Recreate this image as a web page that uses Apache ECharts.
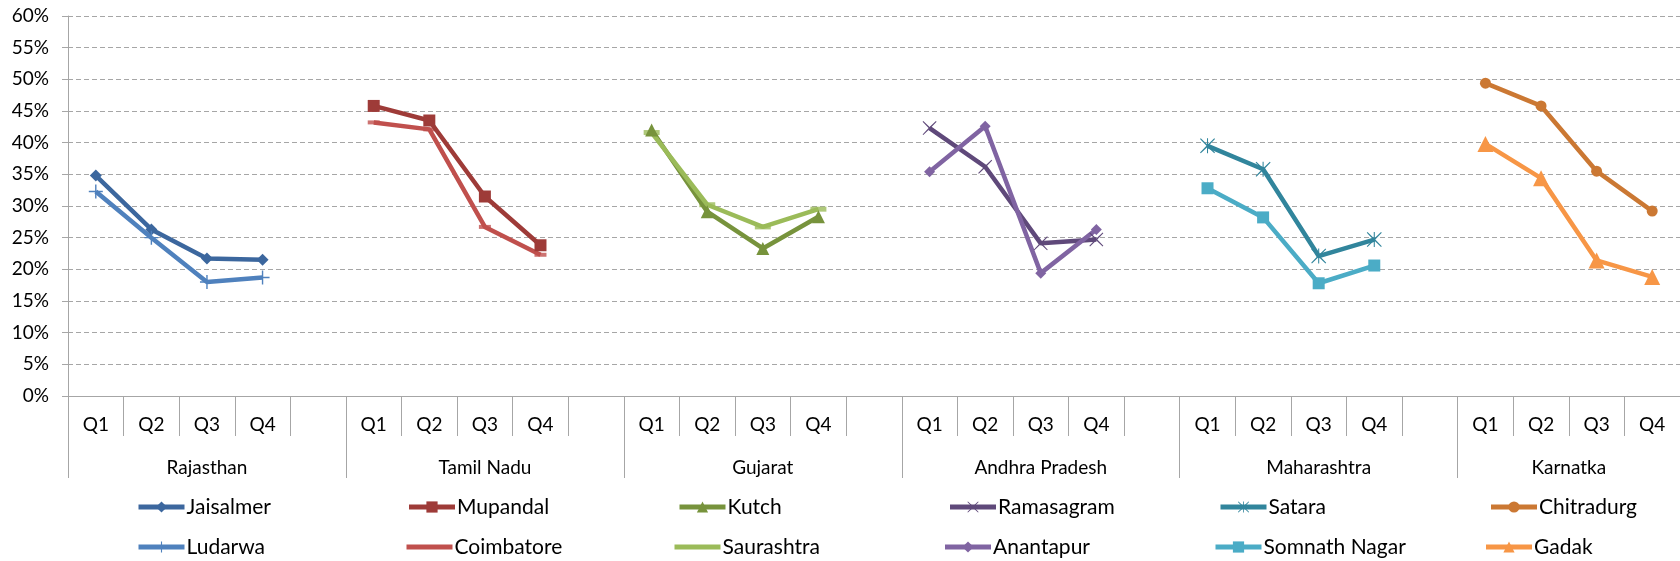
<!DOCTYPE html>
<html>
<head>
<meta charset="utf-8">
<script src="https://cdn.jsdelivr.net/npm/echarts@6/dist/echarts.min.js"></script>
<style>
html,body{margin:0;padding:0;background:#fff;}
#chart{width:1680px;height:561px;}
</style>
</head>
<body>
<div id="chart"></div>
<script>
// ---- data ----
var quarters = ['Q1', 'Q2', 'Q3', 'Q4'];
var states = ['Rajasthan', 'Tamil Nadu', 'Gujarat', 'Andhra Pradesh', 'Maharashtra', 'Karnatka'];
var yTicks = [0, 5, 10, 15, 20, 25, 30, 35, 40, 45, 50, 55, 60];

var siteNames = ['Jaisalmer', 'Ludarwa', 'Mupandal', 'Coimbatore', 'Kutch', 'Saurashtra',
                 'Ramasagram', 'Anantapur', 'Satara', 'Somnath Nagar', 'Chitradurg', 'Gadak'];
var siteState = [0, 0, 1, 1, 2, 2, 3, 3, 4, 4, 5, 5];

var jaisalmer    = [34.8, 26.3, 21.7, 21.5];
var ludarwa      = [32.3, 25.0, 18.0, 18.7];
var mupandal     = [45.8, 43.5, 31.5, 23.8];
var coimbatore   = [43.2, 42.1, 26.7, 22.3];
var kutch        = [42.0, 29.1, 23.3, 28.3];
var saurashtra   = [41.6, 30.2, 26.7, 29.5];
var ramasagram   = [42.3, 36.2, 24.1, 24.7];
var anantapur    = [35.4, 42.6, 19.4, 26.3];
var satara       = [39.5, 35.8, 22.1, 24.7];
var somnathNagar = [32.8, 28.2, 17.8, 20.6];
var chitradurg   = [49.4, 45.8, 35.5, 29.2];
var gadak        = [39.8, 34.4, 21.4, 18.8];

var siteValues = [jaisalmer, ludarwa, mupandal, coimbatore, kutch, saurashtra,
                  ramasagram, anantapur, satara, somnathNagar, chitradurg, gadak];

// ---- styles ----
var colors = ['#3C679E', '#4F81BD', '#9E3B38', '#C0504D', '#77933C', '#9BBB59',
              '#5F497A', '#8064A2', '#31859C', '#4BACC6', '#CB7833', '#F79646'];
var P_PLUS = 'path://M9,0h2v20h-2z M0,9h20v2h-20z';
var P_X = 'path://M1,0L10,8.6L19,0L20,1L11.4,10L20,19L19,20L10,11.4L1,20L0,19L8.6,10L0,1Z';
var P_AST = 'path://M1,0L10,8.6L19,0L20,1L11.4,10L20,19L19,20L10,11.4L1,20L0,19L8.6,10L0,1Z M9.3,0h1.4v20h-1.4z';
var P_BAR = 'path://M0,0h46v5h-46z';
var symbols = ['diamond', P_PLUS, 'rect', 'none', 'triangle', 'none',
               P_X, 'diamond', P_AST, 'rect', 'circle', 'triangle'];
var symbolSizes = [12, 14, 12, 1, 13, 1, 14, 11, 15, 12, 11, 16];
// dash markers drawn separately (not shown in legend)
var dashSizes = [null, null, null, [12, 4], null, [16, 5], null, null, null, null, null, null];

// ---- build category axis ----
var categories = [];
var groupStart = [];
states.forEach(function (s, gi) {
  groupStart.push(categories.length);
  quarters.forEach(function (q) { categories.push(q); });
  if (gi < states.length - 1) categories.push('');
});
var nCat = categories.length;
var sepTicks = groupStart.concat([nCat]);
var groupCenters = states.map(function (s, gi) {
  var end = gi < states.length - 1 ? groupStart[gi + 1] : nCat;
  return (groupStart[gi] + end) / 2;
});

function fullData(i) {
  var data = [];
  for (var k = 0; k < nCat; k++) data.push(null);
  var st = groupStart[siteState[i]];
  siteValues[i].forEach(function (v, qi) { data[st + qi] = v; });
  return data;
}

var series = [];
siteNames.forEach(function (name, i) {
  series.push({
    name: name,
    type: 'line',
    xAxisIndex: 0,
    data: fullData(i),
    symbol: symbols[i],
    symbolSize: symbolSizes[i],
    showAllSymbol: true,
    connectNulls: false,
    lineStyle: { width: 4.5, color: colors[i] },
    itemStyle: { color: colors[i] },
    emphasis: { disabled: true },
    animation: false
  });
  if (dashSizes[i]) {
    series.push({
      name: name + ' marks',
      type: 'scatter',
      xAxisIndex: 0,
      data: fullData(i),
      symbol: 'rect',
      symbolSize: dashSizes[i],
      itemStyle: { color: colors[i] },
      emphasis: { disabled: true },
      silent: true,
      animation: false
    });
  }
});

var FONT = 'Lato';
function legendItem(i) {
  return symbols[i] === 'none' ? { name: siteNames[i], icon: P_BAR } : { name: siteNames[i] };
}
var row1 = [0, 2, 4, 6, 8, 10].map(legendItem);
var row2 = [1, 3, 5, 7, 9, 11].map(legendItem);
function legend(items, top) {
  return {
    data: items,
    left: 136,
    top: top,
    width: 1700,
    orient: 'horizontal',
    itemWidth: 46,
    itemHeight: 14,
    itemGap: 0,
    padding: 0,
    symbolKeepAspect: true,
    lineStyle: { width: 5 },
    textStyle: { fontFamily: FONT, fontSize: 21, color: '#000', width: 220, padding: [0, 0, 0, -3], lineHeight: 24 },
    selectedMode: false
  };
}

var chart = echarts.init(document.getElementById('chart'), null, { renderer: 'canvas' });
chart.setOption({
  animation: false,
  color: colors,
  grid: { left: 68, right: 0, top: 16, bottom: 165, containLabel: false },
  legend: [legend(row1, 495), legend(row2, 535)],
  xAxis: [
    {
      type: 'category',
      data: categories,
      boundaryGap: true,
      position: 'bottom',
      axisLine: { show: true, lineStyle: { color: '#A6A6A6', width: 1 } },
      axisTick: { show: true, interval: 0, length: 40, lineStyle: { color: '#A6A6A6', width: 1 } },
      axisLabel: { interval: 0, margin: 19, fontFamily: FONT, fontSize: 19, color: '#000' },
      splitLine: { show: false }
    },
    {
      type: 'value',
      min: 0,
      max: nCat,
      position: 'bottom',
      axisLine: { show: false },
      axisTick: { show: true, customValues: sepTicks, length: 82, lineStyle: { color: '#A6A6A6', width: 1 } },
      axisLabel: {
        show: true, customValues: groupCenters, margin: 62, fontFamily: FONT, fontSize: 19, color: '#000',
        formatter: function (v) {
          var idx = groupCenters.indexOf(v);
          return idx >= 0 ? states[idx] : '';
        }
      },
      splitLine: { show: false }
    }
  ],
  yAxis: {
    type: 'value',
    min: yTicks[0],
    max: yTicks[yTicks.length - 1],
    interval: yTicks[1] - yTicks[0],
    axisLine: { show: true, lineStyle: { color: '#A6A6A6', width: 1 } },
    axisTick: { show: true, length: 6, lineStyle: { color: '#A6A6A6' } },
    axisLabel: { margin: 19, fontFamily: FONT, fontSize: 19, color: '#000', formatter: function (v) { return v + '%'; } },
    splitLine: { show: true, lineStyle: { color: '#A6A6A6', type: [5, 3], width: 1 } }
  },
  series: series
});
</script>
</body>
</html>
